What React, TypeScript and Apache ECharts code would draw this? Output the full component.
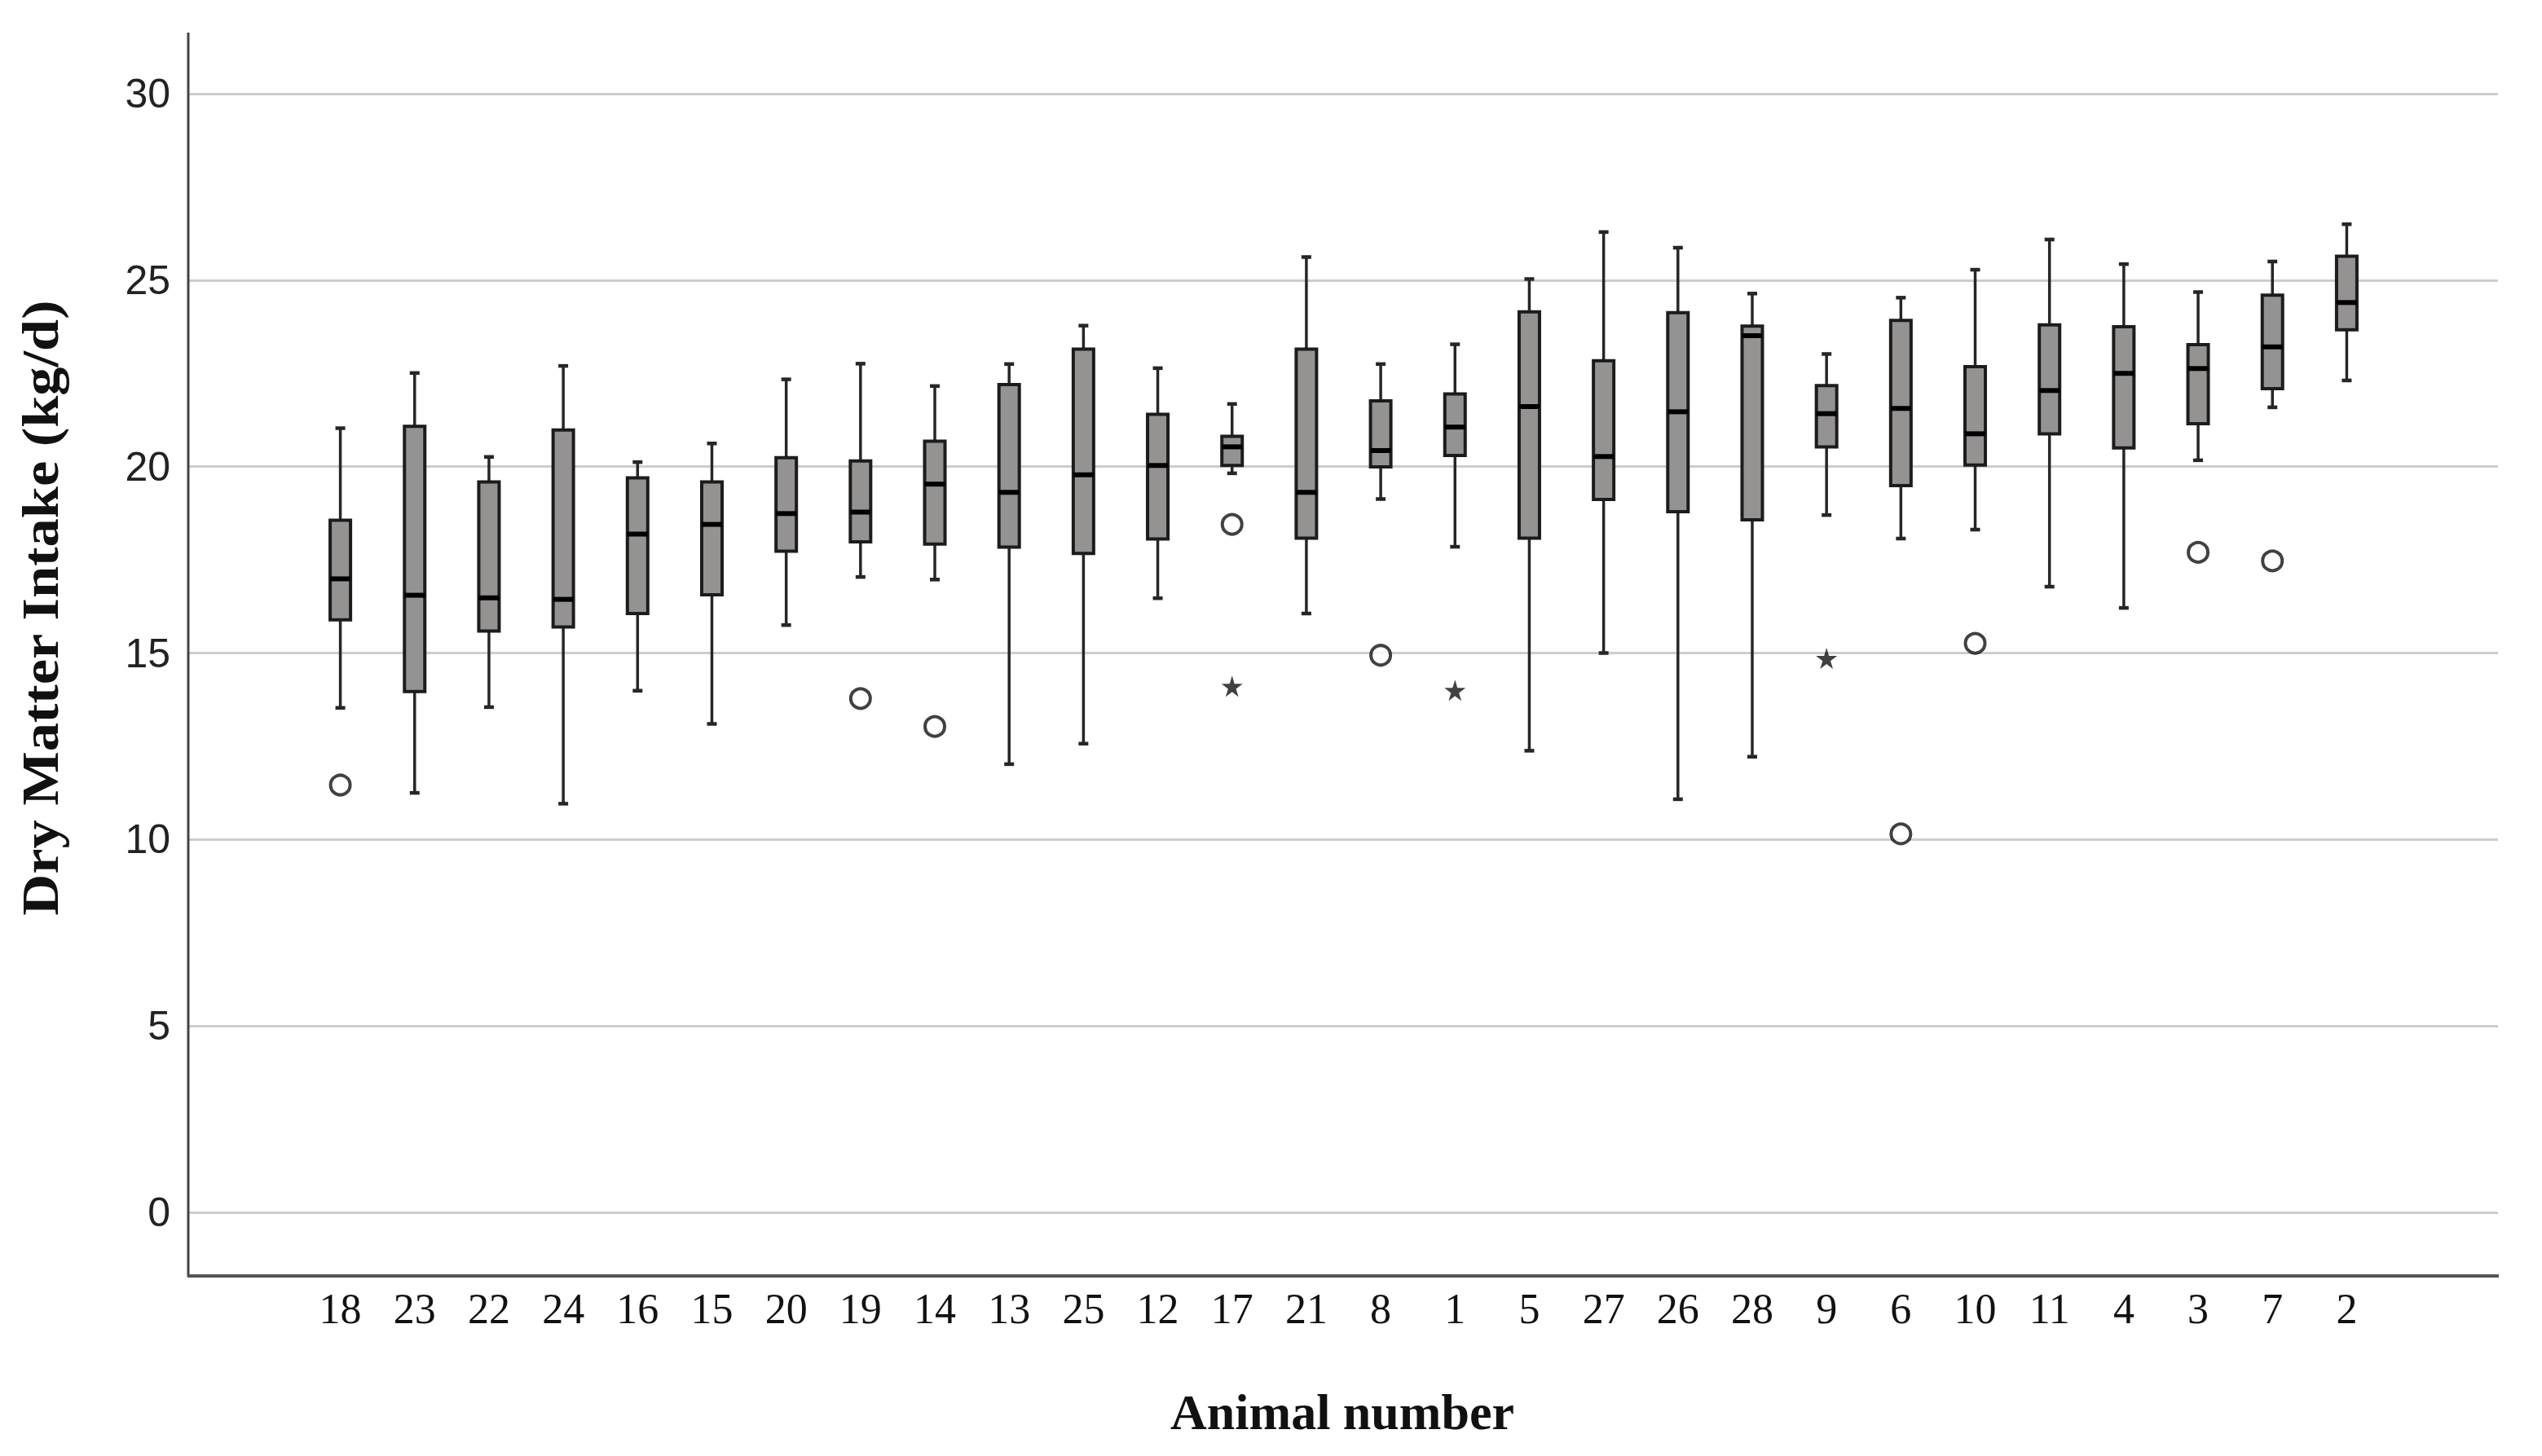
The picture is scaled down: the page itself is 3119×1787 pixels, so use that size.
import React, { useEffect, useRef } from "react";
import * as echarts from "echarts";

const categories = ["18","23","22","24","16","15","20","19","14","13","25","12","17","21","8","1","5","27","26","28","9","6","10","11","4","3","7","2"];
const lowWhisker = [13.53,11.25,13.55,10.96,13.99,13.10,15.75,17.04,16.97,12.02,12.57,16.47,19.82,16.06,19.13,17.85,12.38,15.00,11.08,12.22,18.70,18.07,18.31,16.78,16.21,20.17,21.59,22.31];
const q1 = [15.89,13.97,15.59,15.70,16.06,16.56,17.73,17.98,17.92,17.84,17.67,18.06,20.03,18.08,19.99,20.30,18.08,19.12,18.79,18.57,20.53,19.49,20.04,20.88,20.50,21.15,22.09,23.67];
const median = [16.99,16.55,16.48,16.44,18.19,18.45,18.74,18.78,19.53,19.31,19.78,20.03,20.53,19.31,20.43,21.06,21.61,20.27,21.47,23.51,21.42,21.56,20.88,22.04,22.50,22.63,23.21,24.40];
const q3 = [18.56,21.08,19.59,20.98,19.70,19.59,20.24,20.15,20.68,22.20,23.15,21.40,20.81,23.15,21.76,21.95,24.15,22.84,24.13,23.77,22.17,23.92,22.68,23.80,23.75,23.27,24.60,25.64];
const highWhisker = [21.03,22.51,20.26,22.70,20.12,20.62,22.34,22.76,22.16,22.75,23.78,22.64,21.68,25.62,22.75,23.28,25.03,26.29,25.87,24.64,23.02,24.53,25.28,26.09,25.43,24.68,25.50,26.50];

const circleOutlierAnimals = ["18","19","14","17","8","6","10","3","7"];
const circleOutlierValues = [11.46,13.78,13.03,18.45,14.94,10.15,15.26,17.70,17.47];
const starOutlierAnimals = ["17","1","9"];
const starOutlierValues = [14.11,14.00,14.86];

const yTicks = { min: 0, max: 30, interval: 5 };

const STAR = "path://M50,0 L61,35 L98,35 L68,57 L79,91 L50,70 L21,91 L32,57 L2,35 L39,35 Z";

export default function App() {
  const ref = useRef<HTMLDivElement>(null);
  useEffect(() => {
    if (!ref.current) return;
    const chart = echarts.init(ref.current, null, { renderer: "svg" });
    const boxData = categories.map((c, i) => [i, lowWhisker[i], q1[i], median[i], q3[i], highWhisker[i]]);
    const option: any = {
      animation: false,
      backgroundColor: "#ffffff",
      grid: [
        { left: 231, right: 54, top: 115, bottom: 299 },
        { left: 372, right: 194, top: 115, bottom: 299 },
      ],
      xAxis: [
        { gridIndex: 0, type: "value", min: 0, max: 1, show: false },
        {
          gridIndex: 1,
          type: "category",
          data: categories,
          axisLine: { show: false },
          axisTick: { show: false },
          axisLabel: {
            interval: 0,
            margin: 92,
            fontFamily: "Liberation Serif",
            fontSize: 52,
            color: "#111",
          },
        },
      ],
      yAxis: [
        {
          gridIndex: 0,
          type: "value",
          min: yTicks.min,
          max: yTicks.max,
          interval: yTicks.interval,
          axisLine: { show: false },
          axisTick: { show: false },
          axisLabel: {
            margin: 22,
            fontFamily: "Liberation Sans",
            fontSize: 50,
            color: "#222",
          },
          splitLine: { show: true, lineStyle: { color: "#cdcdcd", width: 3 } },
        },
        {
          gridIndex: 1,
          type: "value",
          min: yTicks.min,
          max: yTicks.max,
          show: false,
          splitLine: { show: false },
        },
      ],
      series: [
        {
          type: "custom",
          xAxisIndex: 1,
          yAxisIndex: 1,
          data: boxData,
          encode: { x: 0, y: [1, 2, 3, 4, 5] },
          renderItem: (params: any, api: any) => {
            const idx = api.value(0);
            const pLow = api.coord([idx, api.value(1)]);
            const pQ1 = api.coord([idx, api.value(2)]);
            const pMed = api.coord([idx, api.value(3)]);
            const pQ3 = api.coord([idx, api.value(4)]);
            const pHigh = api.coord([idx, api.value(5)]);
            const x = pLow[0];
            const bw = 25;
            const cap = 12;
            const wStyle = { stroke: "#262626", lineWidth: 3.5 };
            return {
              type: "group",
              children: [
                { type: "line", shape: { x1: x, y1: pHigh[1], x2: x, y2: pQ3[1] }, style: wStyle },
                { type: "line", shape: { x1: x, y1: pQ1[1], x2: x, y2: pLow[1] }, style: wStyle },
                { type: "line", shape: { x1: x - cap / 2, y1: pHigh[1], x2: x + cap / 2, y2: pHigh[1] }, style: { stroke: "#262626", lineWidth: 4.5 } },
                { type: "line", shape: { x1: x - cap / 2, y1: pLow[1], x2: x + cap / 2, y2: pLow[1] }, style: { stroke: "#262626", lineWidth: 4.5 } },
                {
                  type: "rect",
                  shape: { x: x - bw / 2, y: pQ3[1], width: bw, height: pQ1[1] - pQ3[1] },
                  style: { fill: "#959292", stroke: "#1c1c1c", lineWidth: 4 },
                },
                { type: "line", shape: { x1: x - bw / 2, y1: pMed[1], x2: x + bw / 2, y2: pMed[1] }, style: { stroke: "#000", lineWidth: 6 } },
              ],
            };
          },
        },
        {
          type: "scatter",
          xAxisIndex: 1,
          yAxisIndex: 1,
          symbol: "circle",
          symbolSize: 24,
          itemStyle: { color: "#ffffff", borderColor: "#111", borderWidth: 4 },
          data: circleOutlierAnimals.map((a, i) => [a, circleOutlierValues[i]]),
        },
        {
          type: "scatter",
          xAxisIndex: 1,
          yAxisIndex: 1,
          symbol: STAR,
          symbolSize: 26,
          itemStyle: { color: "#111" },
          data: starOutlierAnimals.map((a, i) => [a, starOutlierValues[i]]),
        },
      ],
      graphic: [
        { type: "line", shape: { x1: 231, y1: 40, x2: 231, y2: 1567 }, style: { stroke: "#444", lineWidth: 3 }, z: 100 },
        { type: "line", shape: { x1: 230, y1: 1566, x2: 3066, y2: 1566 }, style: { stroke: "#555", lineWidth: 4 }, z: 100 },
        {
          type: "text",
          x: 50,
          y: 746,
          rotation: Math.PI / 2,
          scaleX: 1.1,
          style: {
            text: "Dry Matter Intake (kg/d)",
            fontFamily: "Liberation Serif",
            fontWeight: "bold",
            fontSize: 64,
            fill: "#111",
            align: "center",
            verticalAlign: "middle",
          },
        },
        {
          type: "text",
          x: 1647,
          y: 1733,
          style: {
            text: "Animal number",
            fontFamily: "Liberation Serif",
            fontWeight: "bold",
            fontSize: 62,
            fill: "#111",
            align: "center",
            verticalAlign: "middle",
          },
        },
      ],
    };
    chart.setOption(option);
    return () => chart.dispose();
  }, []);
  return <div ref={ref} style={{ position: "fixed", left: 0, top: 0, width: 3119, height: 1787, background: "#fff" }} />;
}
